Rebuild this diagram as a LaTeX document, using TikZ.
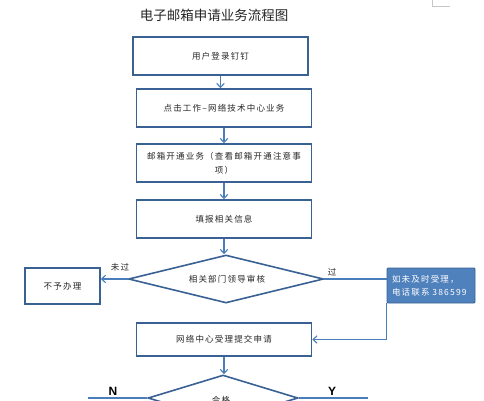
\documentclass[tikz,border=0pt]{standalone}
\usepackage{fontspec}
\setmainfont{Noto Sans CJK SC}
\newfontfamily\boxfont[LetterSpace=14]{Noto Sans CJK SC}
\newfontfamily\latinfont{Liberation Sans}
\usetikzlibrary{
  shapes.geometric,%
  arrows.meta,%
  positioning,%
  calc
}
\definecolor{boxline}{HTML}{3A6194}
\definecolor{flowline}{HTML}{4A7EBB}
\definecolor{notefill}{HTML}{4F81BD}
\definecolor{notedraw}{HTML}{3A6194}
\definecolor{textgray}{HTML}{262626}
\tikzset{>={Straight Barb[length=4pt,width=7.5pt,line width=1.1pt]}}
\tikzset{font=\boxfont\fontsize{8.5}{14}\selectfont}
\tikzset{
  stepbox/.style={draw=boxline, line width=1.6pt, fill=white, minimum width=175pt,
    minimum height=38pt, inner sep=0pt, text=textgray, align=center},
  decision/.style={diamond, draw=boxline, line width=1.6pt, fill=white,
    inner sep=0pt, text=textgray},
  flow/.style={draw=flowline, line width=1.1pt},
  notebox/.style={draw=notedraw, line width=0.8pt, fill=notefill, text=white,
    minimum width=88pt, minimum height=35pt, text width=78pt, align=left,
    inner sep=0pt, rounded corners=1pt, font=\boxfont\fontsize{8.5}{13}\selectfont},
  flowlabel/.style={text=textgray, inner sep=0pt},
  yesno/.style={text=black, inner sep=0pt, font=\latinfont\bfseries\fontsize{12}{12}\selectfont}
}

\begin{document}
\begin{tikzpicture}[x=1pt,y=-1pt]
  \useasboundingbox (0,0) rectangle (484,400);
  \draw[gray!45, line width=0.8pt] (432,0) -- (432,6) -- (450,6);

  \node[text=textgray, font=\fontsize{13.5}{14}\selectfont] (title) at (214,15) {电子邮箱申请业务流程图};

  % main steps
  \node[stepbox] (login) at (220.5,56) {用户登录钉钉};
  \node[stepbox] (portal) at (224,108) {点击工作–网络技术中心业务};
  \node[stepbox] (notice) at (224,163) {邮箱开通业务（查看邮箱开通注意事\\项）};
  \node[stepbox] (info) at (224,219) {填报相关信息};
  \node[decision, aspect=4, minimum width=195pt, minimum height=48pt] (check) at (226,279) {};
  \node[flowlabel] (checktext) at (227,279) {相关部门领导审核};
  \node[stepbox, minimum width=75pt, minimum height=36pt] (reject) at (62.5,286) {不予办理};
  \node[notebox] (note) at (431,285.5) {如未及时受理，\\电话联系 386599};
  \node[stepbox, minimum height=33pt] (accept) at (224,339.5) {网络中心受理提交申请};
  \node[decision, aspect=3.3, minimum width=150pt, minimum height=46pt] (result) at (223,398) {};
  \node[flowlabel] (resulttext) at (221,400) {合格};

  \coordinate (nend) at (88,398);
  \coordinate (yend) at (368,398);

  % connectors
  \draw[flow,->] (login.south) -- (login.south |- portal.north);
  \draw[flow,->] (portal.south) -- (portal.south |- notice.north);
  \draw[flow,->] (notice.south) -- (notice.south |- info.north);
  \draw[flow,->] (info.south) -- (info.south |- check.north);
  \draw[flow,->] (check.west) -- (check.west -| reject.east);
  \draw[flow] (check.east) -- (check.east -| note.west);
  \draw[flow,->] (note.south west) |- (accept.east);
  \draw[flow,->] (accept.south) -- (accept.south |- result.north);
  \draw[flow] (result.west) -- (nend);
  \draw[flow] (result.east) -- (yend);

  % labels
  \node[flowlabel] (faillabel) at (120,267) {未过};
  \node[flowlabel] (passlabel) at (332,272) {过};
  \node[yesno] (nlabel) at (113,391) {N};
  \node[yesno] (ylabel) at (332,391) {Y};
\end{tikzpicture}
\end{document}
